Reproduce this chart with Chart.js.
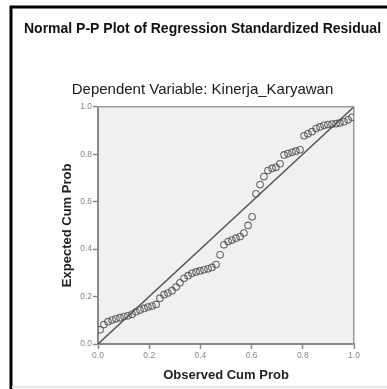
<!DOCTYPE html>
<html>
<head>
<meta charset="utf-8">
<script src="https://cdn.jsdelivr.net/npm/chart.js@4.4.0/dist/chart.umd.min.js"></script>
<style>
  body { margin: 0; background: #fff; }
  #wrap { width: 387px; height: 389px; }
</style>
</head>
<body>
<div id="wrap"><canvas id="myChart" width="387" height="389"></canvas></div>
<script>
// observed cum prob (x) and expected cum prob (y)
var observed = [0.008, 0.023, 0.039, 0.055, 0.070, 0.086, 0.102, 0.117, 0.133, 0.148,
    0.164, 0.180, 0.195, 0.211, 0.227, 0.242, 0.258, 0.273, 0.289, 0.305,
    0.320, 0.336, 0.352, 0.367, 0.383, 0.398, 0.414, 0.430, 0.445, 0.461,
    0.477, 0.492, 0.508, 0.523, 0.539, 0.555, 0.570, 0.586, 0.602, 0.617,
    0.633, 0.648, 0.664, 0.680, 0.695, 0.711, 0.727, 0.742, 0.758, 0.773,
    0.789, 0.805, 0.820, 0.836, 0.852, 0.867, 0.883, 0.898, 0.914, 0.930,
    0.945, 0.961, 0.977, 0.992];
var expected = [0.060, 0.082, 0.094, 0.101, 0.106, 0.111, 0.116, 0.119, 0.125, 0.136,
    0.143, 0.150, 0.156, 0.160, 0.167, 0.193, 0.208, 0.215, 0.225, 0.240,
    0.258, 0.277, 0.288, 0.298, 0.304, 0.308, 0.313, 0.317, 0.323, 0.335,
    0.376, 0.418, 0.432, 0.438, 0.446, 0.453, 0.468, 0.500, 0.536, 0.633,
    0.672, 0.706, 0.731, 0.740, 0.745, 0.760, 0.797, 0.803, 0.808, 0.813,
    0.819, 0.878, 0.886, 0.895, 0.908, 0.915, 0.922, 0.925, 0.927, 0.929,
    0.932, 0.937, 0.945, 0.956];
var diagX = [0, 1];
var diagY = [0, 1];
var tickVals = [0, 0.2, 0.4, 0.6, 0.8, 1.0];

var title = "Normal P-P Plot of Regression Standardized Residual";
var subtitle = "Dependent Variable: Kinerja_Karyawan";

var points = [];
observed.map(function (v, i) {
    points.push({x: v, y: expected[i]});
});
var diag = [];
diagX.map(function (v, i) {
    diag.push({x: v, y: diagY[i]});
});

// grey plot box + the black frame around the whole picture
var frame = {
    id: 'frame',
    beforeDraw: function (chart) {
        var ctx = chart.ctx, a = chart.chartArea;
        ctx.save();
        ctx.fillStyle = '#fff';
        ctx.fillRect(0, 0, chart.width, chart.height);
        ctx.fillStyle = '#f0f0f0';
        ctx.fillRect(a.left, a.top, a.right - a.left, a.bottom - a.top);
        ctx.strokeStyle = '#000';
        ctx.lineWidth = 3;
        ctx.beginPath();
        ctx.moveTo(11, 389);
        ctx.lineTo(11, 7);
        ctx.lineTo(387, 7);
        ctx.stroke();
        ctx.strokeStyle = '#e4e4e4';
        ctx.lineWidth = 2;
        ctx.beginPath();
        ctx.moveTo(12, 387);
        ctx.lineTo(387, 387);
        ctx.stroke();
        ctx.restore();
    },
    afterDraw: function (chart) {
        var ctx = chart.ctx, a = chart.chartArea;
        ctx.save();
        ctx.strokeStyle = '#999';
        ctx.lineWidth = 1.5;
        ctx.beginPath();
        ctx.moveTo(a.left, a.top);
        ctx.lineTo(a.right, a.top);
        ctx.stroke();
        ctx.restore();
    }
};

var ctx = document.getElementById('myChart').getContext('2d');
var myChart = new Chart(ctx, {
    type: 'scatter',
    data: {
        datasets: [{
            type: 'line',
            data: diag,
            borderColor: '#555',
            borderWidth: 1.5,
            pointRadius: 0,
            fill: false,
            order: 2
        }, {
            data: points,
            pointRadius: 3.3,
            pointBorderWidth: 1.1,
            borderColor: 'rgba(80,80,80,0.85)',
            backgroundColor: 'rgba(0,0,0,0)',
            order: 1
        }]
    },
    options: {
        responsive: false,
        animation: false,
        layout: { padding: { left: 18, right: 0, top: 0, bottom: 0 } },
        plugins: {
            legend: { display: false },
            tooltip: { enabled: false },
            title: {
                display: true,
                text: title,
                color: '#111',
                font: { family: 'Liberation Sans, Arial', size: 14, weight: 'bold', lineHeight: 1.2 },
                padding: { top: 21, bottom: 0 }
            },
            subtitle: {
                display: true,
                text: subtitle,
                color: '#1a1a1a',
                font: { family: 'Liberation Sans, Arial', size: 15, weight: 'normal', lineHeight: 1.2 },
                padding: { top: 43, bottom: 8 }
            }
        },
        scales: {
            x: {
                type: 'linear',
                min: 0,
                max: 1,
                afterBuildTicks: function (scale) {
                    scale.ticks = tickVals.map(function (v) { return {value: v}; });
                },
                afterFit: function (scale) { scale.height = 45; },
                grid: { drawOnChartArea: false, drawTicks: true, tickLength: 5, color: '#888', tickWidth: 1.5 },
                border: { color: '#888', width: 2 },
                ticks: {
                    color: '#888',
                    padding: 2,
                    maxRotation: 0,
                    font: { family: 'Liberation Sans, Arial', size: 8.5 },
                    callback: function (v) { return v.toFixed(1); }
                },
                title: {
                    display: true,
                    text: 'Observed Cum Prob',
                    color: '#222',
                    font: { family: 'Liberation Sans, Arial', size: 13, weight: 'bold', lineHeight: 1.2 },
                    padding: { top: 0, bottom: 6 }
                }
            },
            y: {
                type: 'linear',
                min: 0,
                max: 1,
                afterBuildTicks: function (scale) {
                    scale.ticks = tickVals.map(function (v) { return {value: v}; });
                },
                afterFit: function (scale) { scale.width = 80; },
                grid: { drawOnChartArea: false, drawTicks: true, tickLength: 5, color: '#888', tickWidth: 1.5 },
                border: { color: '#888', width: 2 },
                ticks: {
                    color: '#888',
                    padding: 1,
                    font: { family: 'Liberation Sans, Arial', size: 8.5 },
                    callback: function (v) { return v.toFixed(1); }
                },
                title: {
                    display: true,
                    text: 'Expected Cum Prob',
                    color: '#222',
                    font: { family: 'Liberation Sans, Arial', size: 13, weight: 'bold', lineHeight: 1.2 },
                    padding: { top: 42, bottom: 0 }
                }
            },
            y2: {
                type: 'linear',
                position: 'right',
                min: 0,
                max: 1,
                afterFit: function (scale) { scale.width = 33; },
                grid: { drawOnChartArea: false, drawTicks: false },
                border: { color: '#999', width: 1.5 },
                ticks: { display: false }
            }
        }
    },
    plugins: [frame]
});
</script>
</body>
</html>
